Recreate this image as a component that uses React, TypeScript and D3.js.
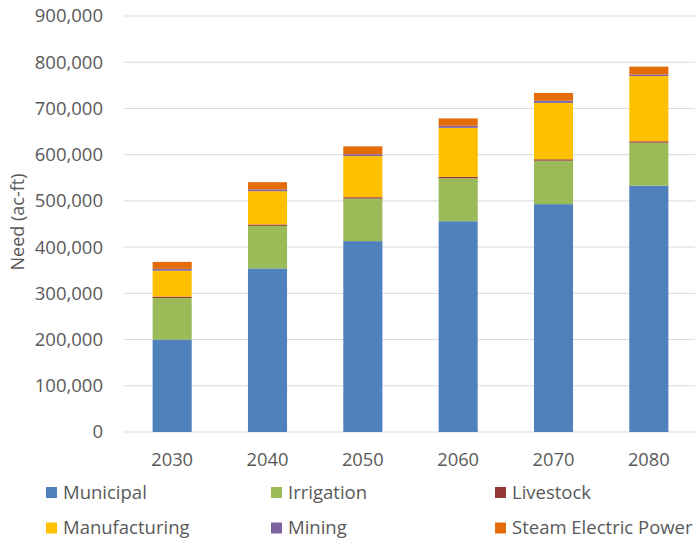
import React from 'react'
import * as d3 from 'd3'

const years = ['2030', '2040', '2050', '2060', '2070', '2080']
const municipal = [200000, 354000, 413000, 456000, 493000, 533000]
const irrigation = [90000, 92000, 92000, 93000, 94000, 93000]
const livestock = [3000, 3000, 3000, 3000, 3000, 3000]
const manufacturing = [56000, 72000, 89000, 106000, 122000, 141000]
const mining = [4000, 4000, 4000, 4500, 5000, 3500]
const steam = [15000, 15500, 17000, 16000, 16500, 17000]
const yTicks = [0, 100000, 200000, 300000, 400000, 500000, 600000, 700000, 800000, 900000]

const series = [
  { name: 'Municipal', color: '#4f81bd', values: municipal },
  { name: 'Irrigation', color: '#9bbb59', values: irrigation },
  { name: 'Livestock', color: '#953735', values: livestock },
  { name: 'Manufacturing', color: '#ffc000', values: manufacturing },
  { name: 'Mining', color: '#8064a2', values: mining },
  { name: 'Steam Electric Power', color: '#e46c0a', values: steam },
]

const W = 695
const H = 539
const font = '"Open Sans", sans-serif'
const textColor = '#595959'

export default function App() {
  const x = d3.scaleBand<string>().domain(years).range([124.5, 696.5]).paddingInner(0.59).paddingOuter(0.295)
  const y = d3.scaleLinear().domain([0, 900000]).range([432, 16])

  const rows = years.map((yr, i) => {
    const r: any = { year: yr }
    series.forEach(s => (r[s.name] = s.values[i]))
    return r
  })
  const stacked = d3.stack<any>().keys(series.map(s => s.name))(rows)
  const fmt = d3.format(',')

  return (
    <svg width={W} height={H} style={{ position: 'absolute', left: 0, top: 0, background: '#fff' }} fontFamily={font}>
      {yTicks.map(t => (
        <g key={t}>
          <line x1={124} x2={W} y1={y(t)} y2={y(t)} stroke="#d9d9d9" strokeWidth={1} />
          <text x={103} y={y(t)} dy="0.35em" textAnchor="end" fontSize={18.5} fill={textColor}>{fmt(t)}</text>
        </g>
      ))}
      {stacked.map((layer, si) => (
        <g key={layer.key} fill={series[si].color}>
          {layer.map((d, i) => (
            <rect key={i} x={x(years[i])} width={x.bandwidth()} y={y(d[1])} height={y(d[0]) - y(d[1])} />
          ))}
        </g>
      ))}
      {years.map(yr => (
        <text key={yr} x={(x(yr) as number) + x.bandwidth() / 2} y={460} dy="0.35em" textAnchor="middle" fontSize={18.3} fill={textColor}>{yr}</text>
      ))}
      <text transform={`translate(18,222) rotate(-90)`} textAnchor="middle" dy="0.35em" fontSize={18} fill={textColor}>Need (ac-ft)</text>
      {series.map((s, i) => {
        const col = i % 3
        const row = Math.floor(i / 3)
        const lx = [46, 271, 495][col]
        const ly = [492.5, 528][row]
        return (
          <g key={s.name}>
            <rect x={lx} y={ly - 5.5} width={11} height={11} fill={s.color} />
            <text x={lx + 17} y={ly} dy="0.35em" fontSize={18.5} fill={textColor}>{s.name}</text>
          </g>
        )
      })}
    </svg>
  )
}
